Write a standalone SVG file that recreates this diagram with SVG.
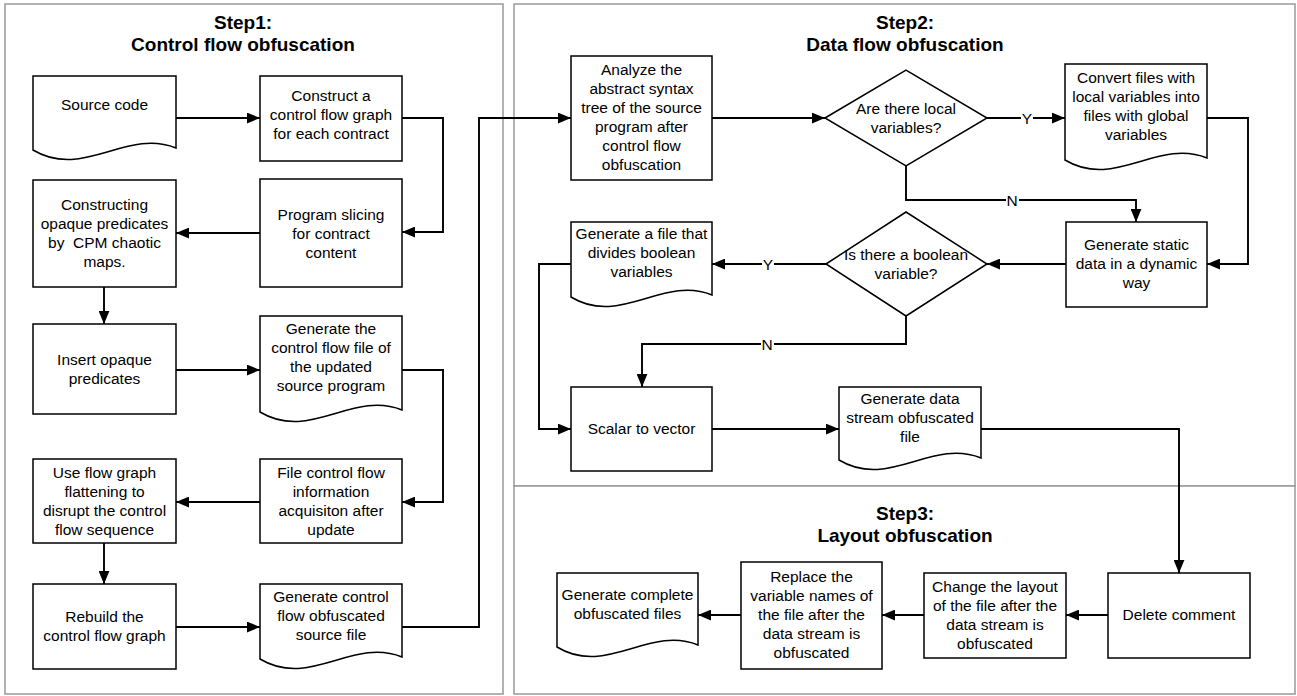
<svg xmlns="http://www.w3.org/2000/svg" width="1297" height="696" viewBox="0 0 1297 696">
<style>
.panel{fill:#fff;stroke:#999;stroke-width:1.5}
.box{fill:#fff;stroke:#000;stroke-width:1.5}
.con{fill:none;stroke:#000;stroke-width:1.9}
.t{font-family:"Liberation Sans",Arial,sans-serif;font-size:15.5px;text-anchor:middle;fill:#000}
.h{font-family:"Liberation Sans",Arial,sans-serif;font-size:19px;font-weight:bold;text-anchor:middle;fill:#000}
.lb{fill:#fff;stroke:none}
</style>
<defs>
<marker id="ah" viewBox="0 0 12 10" refX="12" refY="5" markerWidth="13" markerHeight="11" markerUnits="userSpaceOnUse" orient="auto">
<path d="M0,0 L12,5 L0,10 Z" fill="#000"/>
</marker>
</defs>
<rect width="1297" height="696" fill="#fff"/>
<g id="panels">
<rect class="panel" x="5" y="4" width="498" height="690"/>
<rect class="panel" x="514" y="4" width="781" height="482"/>
<rect class="panel" x="514" y="486" width="781" height="208"/>
<text class="h" x="243" y="29">Step1:</text>
<text class="h" x="243" y="51">Control flow obfuscation</text>
<text class="h" x="905" y="29">Step2:</text>
<text class="h" x="905" y="51">Data flow obfuscation</text>
<text class="h" x="905" y="520">Step3:</text>
<text class="h" x="905" y="542">Layout obfuscation</text>
</g>
<g id="connectors">
<path class="con" marker-end="url(#ah)" d="M176,118 H260"/>
<path class="con" marker-end="url(#ah)" d="M402,118 H443 V232 H402"/>
<path class="con" marker-end="url(#ah)" d="M260,233 H176"/>
<path class="con" marker-end="url(#ah)" d="M104,287 V324"/>
<path class="con" marker-end="url(#ah)" d="M176,370 H260"/>
<path class="con" marker-end="url(#ah)" d="M402,370 H443 V502 H402"/>
<path class="con" marker-end="url(#ah)" d="M260,502 H176"/>
<path class="con" marker-end="url(#ah)" d="M104,543 V584"/>
<path class="con" marker-end="url(#ah)" d="M176,627 H260"/>
<path class="con" marker-end="url(#ah)" d="M402,627 H479 V118 H571"/>
<path class="con" marker-end="url(#ah)" d="M712,118 H825"/>
<path class="con" marker-end="url(#ah)" d="M987,118 H1065"/>
<path class="con" marker-end="url(#ah)" d="M1207,118 H1248 V264 H1207"/>
<path class="con" marker-end="url(#ah)" d="M906,166 V200 H1136 V222"/>
<path class="con" marker-end="url(#ah)" d="M1066,264 H987"/>
<path class="con" marker-end="url(#ah)" d="M826,264 H712"/>
<path class="con" marker-end="url(#ah)" d="M571,264 H539 V429 H571"/>
<path class="con" marker-end="url(#ah)" d="M906,316 V344 H642 V387"/>
<path class="con" marker-end="url(#ah)" d="M712,429 H839"/>
<path class="con" marker-end="url(#ah)" d="M981,429 H1179 V573"/>
<path class="con" marker-end="url(#ah)" d="M1108,615 H1066"/>
<path class="con" marker-end="url(#ah)" d="M924,615 H882"/>
<path class="con" marker-end="url(#ah)" d="M741,615 H698"/>
<rect class="lb" x="1021" y="110" width="12" height="16"/>
<text class="t" x="1027" y="124">Y</text>
<rect class="lb" x="1006" y="192" width="13" height="16"/>
<text class="t" x="1012" y="206">N</text>
<rect class="lb" x="762" y="256" width="12" height="16"/>
<text class="t" x="768" y="270">Y</text>
<rect class="lb" x="761" y="336" width="13" height="16"/>
<text class="t" x="767" y="350">N</text>
</g>
<g id="n-source">
<path class="box" d="M33,76 H176 V148 C126,128 83,180 33,150 Z"/>
<text class="t" x="104.5" y="110">Source code</text>
</g>
<g id="n-construct">
<rect class="box" x="260" y="76" width="142" height="85"/>
<text class="t" x="331" y="101">Construct a</text>
<text class="t" x="331" y="120">control flow graph</text>
<text class="t" x="331" y="139">for each contract</text>
</g>
<g id="n-opaque">
<rect class="box" x="33" y="180" width="143" height="107"/>
<text class="t" x="104.5" y="210">Constructing</text>
<text class="t" x="104.5" y="229">opaque predicates</text>
<text class="t" x="104.5" y="248" xml:space="preserve">by  CPM chaotic</text>
<text class="t" x="104.5" y="267">maps.</text>
</g>
<g id="n-slicing">
<rect class="box" x="260" y="179" width="142" height="108"/>
<text class="t" x="331" y="220">Program slicing</text>
<text class="t" x="331" y="239">for contract</text>
<text class="t" x="331" y="258">content</text>
</g>
<g id="n-insert">
<rect class="box" x="33" y="324" width="143" height="90"/>
<text class="t" x="104.5" y="365">Insert opaque</text>
<text class="t" x="104.5" y="384">predicates</text>
</g>
<g id="n-genflow">
<path class="box" d="M260,316 H402 V410 C352,390 310,442 260,412 Z"/>
<text class="t" x="331" y="334">Generate the</text>
<text class="t" x="331" y="353">control flow file of</text>
<text class="t" x="331" y="372">the updated</text>
<text class="t" x="331" y="391">source program</text>
</g>
<g id="n-flatten">
<rect class="box" x="33" y="459" width="143" height="84"/>
<text class="t" x="104.5" y="478">Use flow graph</text>
<text class="t" x="104.5" y="497">flattening to</text>
<text class="t" x="104.5" y="516">disrupt the control</text>
<text class="t" x="104.5" y="535">flow sequence</text>
</g>
<g id="n-fileinfo">
<rect class="box" x="260" y="459" width="142" height="84"/>
<text class="t" x="331" y="478">File control flow</text>
<text class="t" x="331" y="497">information</text>
<text class="t" x="331" y="516">acquisiton after</text>
<text class="t" x="331" y="535">update</text>
</g>
<g id="n-rebuild">
<rect class="box" x="33" y="584" width="143" height="85"/>
<text class="t" x="104.5" y="622">Rebuild the</text>
<text class="t" x="104.5" y="641">control flow graph</text>
</g>
<g id="n-cfobf">
<path class="box" d="M260,584 H402 V657 C352,637 310,689 260,659 Z"/>
<text class="t" x="331" y="602">Generate control</text>
<text class="t" x="331" y="621">flow obfuscated</text>
<text class="t" x="331" y="640">source file</text>
</g>
<g id="n-analyze">
<rect class="box" x="571" y="56" width="141" height="124"/>
<text class="t" x="641.5" y="75">Analyze the</text>
<text class="t" x="641.5" y="94">abstract syntax</text>
<text class="t" x="641.5" y="113">tree of the source</text>
<text class="t" x="641.5" y="132">program after</text>
<text class="t" x="641.5" y="151">control flow</text>
<text class="t" x="641.5" y="170">obfuscation</text>
</g>
<g id="n-local">
<polygon class="box" points="825,118 906,70 987,118 906,166"/>
<text class="t" x="906" y="114">Are there local</text>
<text class="t" x="906" y="133">variables?</text>
</g>
<g id="n-convert">
<path class="box" d="M1065,64 H1207 V158 C1157,138 1115,190 1065,160 Z"/>
<text class="t" x="1136" y="83">Convert files with</text>
<text class="t" x="1136" y="102">local variables into</text>
<text class="t" x="1136" y="121">files with global</text>
<text class="t" x="1136" y="140">variables</text>
</g>
<g id="n-static">
<rect class="box" x="1066" y="222" width="141" height="85"/>
<text class="t" x="1136.5" y="250">Generate static</text>
<text class="t" x="1136.5" y="269">data in a dynamic</text>
<text class="t" x="1136.5" y="288">way</text>
</g>
<g id="n-bool">
<polygon class="box" points="826,264 906,212 987,264 906,316"/>
<text class="t" x="906" y="260">Is there a boolean</text>
<text class="t" x="906" y="279">variable?</text>
</g>
<g id="n-divide">
<path class="box" d="M571,222 H712 V295 C663,275 620,327 571,297 Z"/>
<text class="t" x="641.5" y="239">Generate a file that</text>
<text class="t" x="641.5" y="258">divides boolean</text>
<text class="t" x="641.5" y="277">variables</text>
</g>
<g id="n-scalar">
<rect class="box" x="571" y="387" width="141" height="84"/>
<text class="t" x="641.5" y="434">Scalar to vector</text>
</g>
<g id="n-dsobf">
<path class="box" d="M839,387 H981 V458 C931,438 889,490 839,460 Z"/>
<text class="t" x="910" y="404">Generate data</text>
<text class="t" x="910" y="423">stream obfuscated</text>
<text class="t" x="910" y="442">file</text>
</g>
<g id="n-delete">
<rect class="box" x="1108" y="573" width="142" height="85"/>
<text class="t" x="1179" y="620">Delete comment</text>
</g>
<g id="n-layout">
<rect class="box" x="924" y="573" width="142" height="85"/>
<text class="t" x="995" y="592">Change the layout</text>
<text class="t" x="995" y="611">of the file after the</text>
<text class="t" x="995" y="630">data stream is</text>
<text class="t" x="995" y="649">obfuscated</text>
</g>
<g id="n-replace">
<rect class="box" x="741" y="562" width="141" height="107"/>
<text class="t" x="811.5" y="582">Replace the</text>
<text class="t" x="811.5" y="601">variable names of</text>
<text class="t" x="811.5" y="620">the file after the</text>
<text class="t" x="811.5" y="639">data stream is</text>
<text class="t" x="811.5" y="658">obfuscated</text>
</g>
<g id="n-complete">
<path class="box" d="M557,573 H698 V645 C649,625 606,677 557,647 Z"/>
<text class="t" x="627.5" y="600">Generate complete</text>
<text class="t" x="627.5" y="619">obfuscated files</text>
</g>
</svg>
